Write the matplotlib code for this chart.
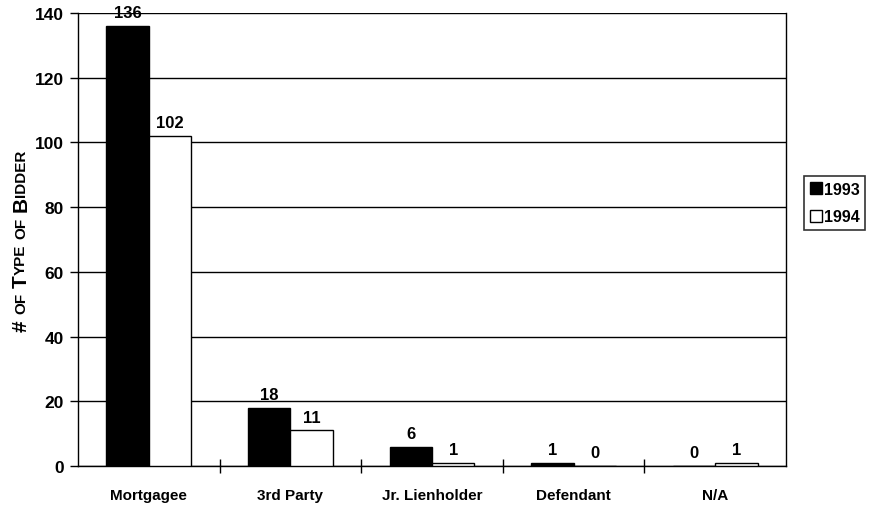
import matplotlib
matplotlib.use("Agg")
import matplotlib.pyplot as plt
import numpy as np

categories = ["Mortgagee", "3rd Party", "Jr. Lienholder", "Defendant", "N/A"]
series_names = ["1993", "1994"]
values_1993 = [136, 18, 6, 1, 0]
values_1994 = [102, 11, 1, 0, 1]
y_ticks = [0, 20, 40, 60, 80, 100, 120, 140]

plt.rcParams['font.family'] = ['Liberation Sans', 'DejaVu Sans']

W, H = 871, 510
fig = plt.figure(figsize=(W/100, H/100), dpi=100)
L, R, T, B = 78, 786, 14, 467
ax = fig.add_axes([L/W, 1 - B/H, (R-L)/W, (B-T)/H])

x = np.arange(len(categories))
bw = 0.3
b1 = ax.bar(x - bw/2, values_1993, bw, color='black', edgecolor='black', linewidth=1, label=series_names[0], zorder=3)
b2 = ax.bar(x + bw/2, values_1994, bw, color='white', edgecolor='black', linewidth=1, label=series_names[1], zorder=3)

for rects, vals in [(b1, values_1993), (b2, values_1994)]:
    for r, v in zip(rects, vals):
        ax.annotate(str(v), (r.get_x() + r.get_width()/2, v), xytext=(0, 4),
                    textcoords='offset points', ha='center', va='bottom',
                    fontsize=12, fontweight='bold')

ax.set_xlim(-0.5, len(categories) - 0.5)
ax.set_ylim(0, 140)
ax.set_yticks(y_ticks)
ax.set_yticklabels([str(t) for t in y_ticks], fontsize=12.5, fontweight='bold')
ax.yaxis.grid(True, color='black', linewidth=1, zorder=0)
ax.set_axisbelow(True)
ax.tick_params(axis='y', direction='out', length=6, width=1, pad=4)

ax.set_xticks(x)
ax.set_xticklabels(categories, fontsize=11, fontweight='bold')
ax.tick_params(axis='x', length=0, pad=16)
ax.set_xticks(np.arange(0.5, len(categories) - 0.5, 1), minor=True)
ax.tick_params(axis='x', which='minor', direction='inout', length=10, width=1)

for s in ax.spines.values():
    s.set_linewidth(1)
    s.set_color('black')
ax.spines['top'].set_visible(False)

leg = fig.legend(handles=[b1, b2], labels=series_names, loc='upper left',
                 bbox_to_anchor=(804/W, 1 - 177/H), frameon=True, fancybox=False,
                 edgecolor='black', fontsize=11.5, handlelength=0.75, handleheight=0.75,
                 handletextpad=0.15, borderpad=0.35, labelspacing=0.8, borderaxespad=0)
leg.get_frame().set_linewidth(1.2)
for t in leg.get_texts():
    t.set_fontweight('bold')

# small-caps y label
pieces = [("#", 15), (" ", 15), ("OF", 11), (" ", 15), ("T", 15), ("YPE", 11), (" ", 15), ("OF", 11), (" ", 15), ("B", 15), ("IDDER", 11)]
fig.canvas.draw()
renderer = fig.canvas.get_renderer()
lengths = []
for s, fs in pieces:
    t = fig.text(0, 0, s, fontsize=fs, fontweight='bold', rotation=90)
    if s == " ":
        t.set_text("a a")
        w1 = t.get_window_extent(renderer).height
        t.set_text("aa")
        w2 = t.get_window_extent(renderer).height
        lengths.append(w1 - w2)
    else:
        lengths.append(t.get_window_extent(renderer).height)
    t.remove()
total = sum(lengths)
ycenter = (H - (T + B) / 2)
y0 = ycenter - total / 2
xpix = 21
cur = y0
for (s, fs), ln in zip(pieces, lengths):
    if s != " ":
        fig.text(xpix / W, cur / H, s, fontsize=fs, fontweight='bold', rotation=90,
                 ha='center', va='bottom', rotation_mode='default')
    cur += ln

fig.savefig("out.png", dpi=100)
